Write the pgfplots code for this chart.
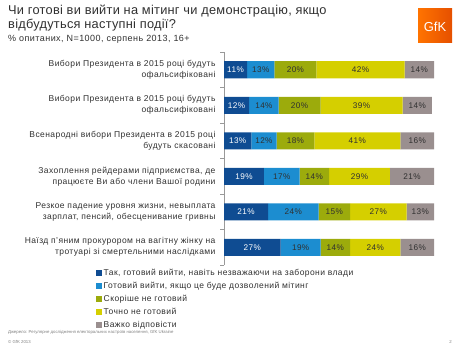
\documentclass[border=0pt]{standalone}
\usepackage{pgfplots}
\pgfplotsset{compat=1.18}
\usepackage{fontspec}
\setmainfont{Liberation Sans}
\newfontfamily\lsfont[LetterSpace=5]{Liberation Sans}
\newfontfamily\lsfontb[LetterSpace=2]{Liberation Sans}
\definecolor{cA}{HTML}{0F4C92}
\definecolor{cB}{HTML}{1C8DD0}
\definecolor{cC}{HTML}{9CAB0C}
\definecolor{cD}{HTML}{D5CF00}
\definecolor{cE}{HTML}{9A8F8F}
\definecolor{txt}{HTML}{303030}
\begin{document}
\begin{tikzpicture}
\path[use as bounding box] (0pt,0pt) rectangle (460pt,-352pt);
% title
\node[anchor=north west, inner sep=0pt, font=\lsfontb\fontsize{12.8}{14}\selectfont, text=txt, align=left] at (8pt,-5pt)
  {Чи готові ви вийти на мітинг чи демонстрацію, якщо\\відбудуться наступні події?};
\node[anchor=north west, inner sep=0pt, font=\lsfont\fontsize{9}{10}\selectfont, text=txt] at (8pt,-35.5pt)
  {\% опитаних, N=1000, серпень 2013, 16+};
% logo
\fill[left color=orange!90!red, right color=orange!70!red!90!black] (418pt,-9pt) rectangle (452pt,-43pt);
\node[text=white, font=\fontsize{13}{14}\selectfont] at (435pt,-26.5pt) {GfK};
% footer
\node[anchor=west, inner sep=0pt, font=\fontsize{4.3}{5}\selectfont, text=gray] at (8pt,-332pt)
  {Джерело: Регулярне дослідження електоральних настроїв населення, GfK Ukraine};
\node[anchor=west, inner sep=0pt, font=\fontsize{4.3}{5}\selectfont, text=gray] at (8pt,-342pt) {© GfK 2013};
\node[anchor=east, inner sep=0pt, font=\fontsize{4.3}{5}\selectfont, text=gray] at (452pt,-342pt) {2};
\begin{axis}[
  at={(224pt,-265pt)}, anchor=south west,
  scale only axis, width=210pt, height=213pt,
  xbar stacked, bar width=17pt,
  xmin=0, xmax=100, ymin=-0.5, ymax=5.5,
  axis x line=none, axis y line*=left,
  axis line style={draw=gray!80, -},
  ytick={0,...,5},
  yticklabels={
    {Наїзд п’яним прокурором на вагітну жінку на\\тротуарі зі смертельними наслідками},
    {Резкое падение уровня жизни, невыплата\\зарплат, пенсий, обесценивание гривны},
    {Захоплення рейдерами підприємства, де\\працюєте Ви або члени Вашої родини},
    {Всенародні вибори Президента в 2015 році\\будуть скасовані},
    {Вибори Президента в 2015 році будуть\\офальсифіковані},
    {Вибори Президента в 2015 році будуть\\офальсифіковані}},
  major tick length=0pt,
  minor ytick={-0.5,0.5,...,5.5},
  minor tick length=4pt, tick align=outside,
  minor tick style={draw=gray!80},
  yticklabel style={align=right, font=\lsfont\fontsize{8.5}{11}\selectfont, text=txt, xshift=-5pt},
  legend style={at={(-0.61,-0.01)}, anchor=north west, draw=none, fill=none,
    font=\lsfont\fontsize{8.5}{9}\selectfont, text=txt, row sep=1.2pt, inner sep=0pt,
    cells={anchor=west}},
  legend image code/.code={\fill[#1,draw=none] (0pt,-2.8pt) rectangle (5.6pt,2.8pt);},
]
\addplot[fill=cA, draw=none] coordinates {(11,5) (12,4) (13,3) (19,2) (21,1) (27,0)};
\addplot[fill=cB, draw=none] coordinates {(13,5) (14,4) (12,3) (17,2) (24,1) (19,0)};
\addplot[fill=cC, draw=none] coordinates {(20,5) (20,4) (18,3) (14,2) (15,1) (14,0)};
\addplot[fill=cD, draw=none] coordinates {(42,5) (39,4) (41,3) (29,2) (27,1) (24,0)};
\addplot[fill=cE, draw=none] coordinates {(14,5) (14,4) (16,3) (21,2) (13,1) (16,0)};
\legend{{Так, готовий вийти, навіть незважаючи на заборони влади},
  {Готовий вийти, якщо це буде дозволений мітинг},
  {Скоріше  не готовий}, {Точно не готовий}, {Важко  відповісти}}
\end{axis}
\begin{axis}[
  at={(224pt,-265pt)}, anchor=south west,
  scale only axis, width=210pt, height=213pt,
  xmin=0, xmax=100, ymin=-0.5, ymax=5.5, hide axis,
  nodes near coords, point meta=explicit symbolic,
  every node near coord/.style={anchor=center, font=\lsfont\fontsize{8.2}{9}\selectfont},
]
\addplot[only marks, mark=none, nodes near coords style={text=white}] table[meta=l] {
x y l
5.5 5 11\%
6 4 12\%
6.5 3 13\%
9.5 2 19\%
10.5 1 21\%
13.5 0 27\%
};
\addplot[only marks, mark=none, nodes near coords style={text=txt}] table[meta=l] {
x y l
17.5 5 13\%
34 5 20\%
65 5 42\%
93 5 14\%
19 4 14\%
36 4 20\%
65.5 4 39\%
92 4 14\%
19 3 12\%
34 3 18\%
63.5 3 41\%
92 3 16\%
27.5 2 17\%
43 2 14\%
64.5 2 29\%
89.5 2 21\%
33 1 24\%
52.5 1 15\%
73.5 1 27\%
93.5 1 13\%
36.5 0 19\%
53 0 14\%
72 0 24\%
92 0 16\%
};
\end{axis}
\end{tikzpicture}
\end{document}
